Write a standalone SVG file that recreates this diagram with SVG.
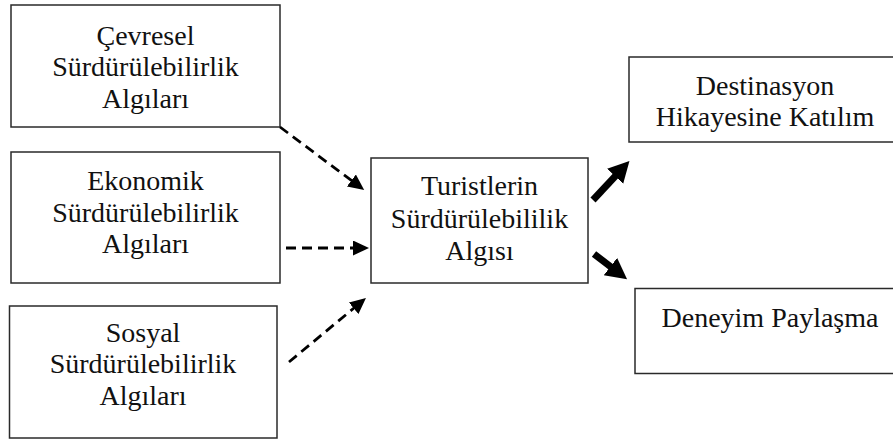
<svg xmlns="http://www.w3.org/2000/svg" width="893" height="443" viewBox="0 0 893 443">
<style>
.box{fill:#fff;stroke:#2a2a2a;stroke-width:1.5}
.t{font-family:"Liberation Serif","Times New Roman",serif;font-size:28px;fill:#111;text-anchor:middle}
.dash{stroke:#000;stroke-width:2.8;stroke-dasharray:10 6;fill:none}
.thick{stroke:#000;stroke-width:7;fill:none}
</style>
<defs>
<marker id="ah" markerUnits="userSpaceOnUse" markerWidth="18" markerHeight="16" refX="2" refY="7.5" orient="auto">
<path d="M0,0 L16,7.5 L0,15 z" fill="#000"/>
</marker>
<marker id="ahb" markerUnits="userSpaceOnUse" markerWidth="24" markerHeight="24" refX="2" refY="11" orient="auto">
<path d="M0,0 L21,11 L0,22 z" fill="#000"/>
</marker>
</defs>
<rect width="893" height="443" fill="#fff"/>
<g id="n1"><rect class="box" x="11" y="5" width="269" height="122"/>
<text class="t" x="145.5" y="45">Çevresel</text><text class="t" x="145.5" y="76">Sürdürülebilirlik</text><text class="t" x="145.5" y="108">Algıları</text></g>
<g id="n2"><rect class="box" x="11" y="152" width="269" height="131"/>
<text class="t" x="145.5" y="190">Ekonomik</text><text class="t" x="145.5" y="222">Sürdürülebilirlik</text><text class="t" x="145.5" y="253">Algıları</text></g>
<g id="n3"><rect class="box" x="9.5" y="306" width="267.5" height="132"/>
<text class="t" x="143" y="342">Sosyal</text><text class="t" x="143" y="373">Sürdürülebilirlik</text><text class="t" x="143" y="405">Algıları</text></g>
<g id="n4"><rect class="box" x="371" y="158" width="217" height="125"/>
<text class="t" x="479.5" y="195">Turistlerin</text><text class="t" x="479.5" y="228">Sürdürülebililik</text><text class="t" x="479.5" y="260">Algısı</text></g>
<g id="n5"><rect class="box" x="629" y="57" width="275" height="85"/>
<text class="t" x="765" y="95">Destinasyon</text><text class="t" x="765" y="126">Hikayesine Katılım</text></g>
<g id="n6"><rect class="box" x="635" y="288.5" width="275" height="85"/>
<text class="t" x="770" y="327">Deneyim Paylaşma</text></g>
<g id="connectors">
<line class="dash" x1="280" y1="127" x2="353" y2="181.7" marker-end="url(#ah)"/>
<line class="dash" x1="286" y1="248" x2="355" y2="248" marker-end="url(#ah)"/>
<line class="dash" x1="289" y1="362" x2="355.2" y2="307" marker-end="url(#ah)"/>
<line class="thick" x1="593" y1="200" x2="616.5" y2="174.8" marker-end="url(#ahb)"/>
<line class="thick" x1="594" y1="254" x2="612" y2="267.8" marker-end="url(#ahb)"/>
</g>
</svg>
